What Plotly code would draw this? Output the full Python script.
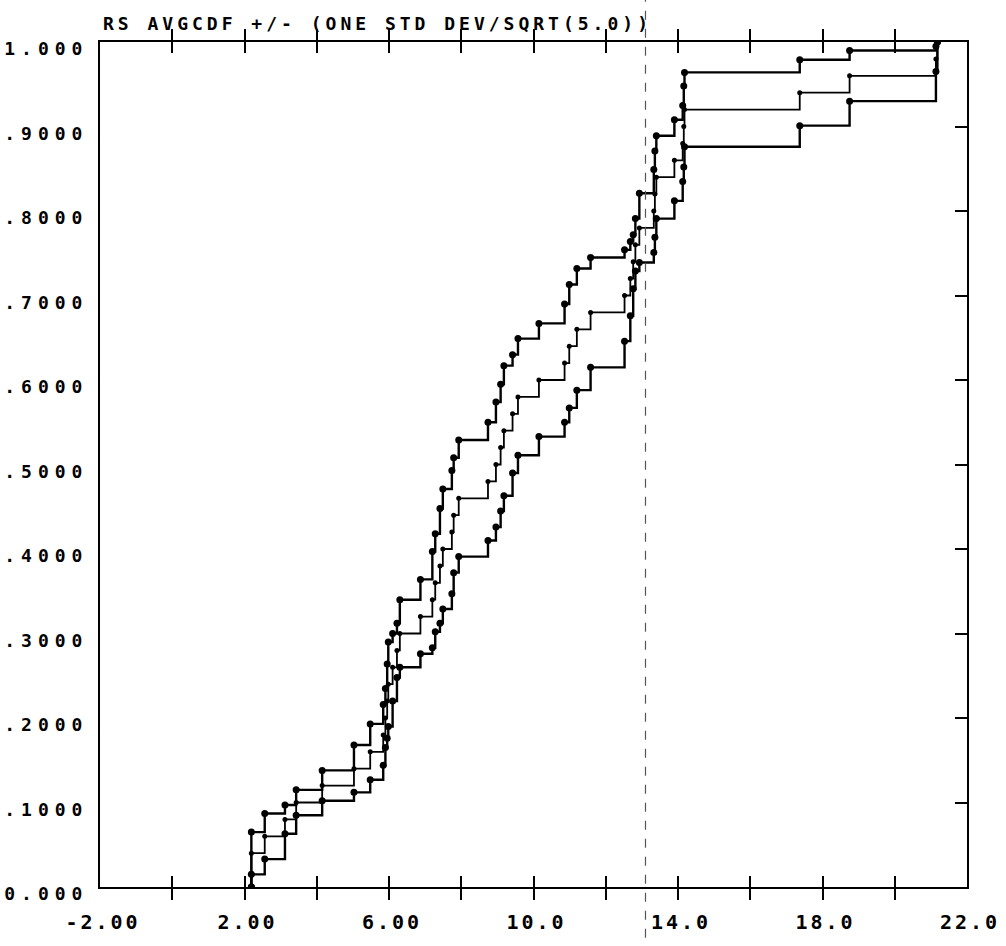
import plotly.graph_objects as go

# ---- data ----
step_x = [2.19, 2.56, 3.12, 3.43, 4.15, 5.03, 5.48, 5.84, 5.90, 5.95, 5.98, 6.10, 6.22, 6.30,
          6.87, 7.20, 7.28, 7.41, 7.49, 7.74, 7.79, 7.93, 8.74, 8.96, 9.09, 9.18, 9.42, 9.57,
          10.15, 10.86, 10.99, 11.20, 11.58, 12.52, 12.68, 12.76, 12.82, 12.93, 13.33, 13.36,
          13.40, 13.90, 14.13, 14.16, 14.18, 17.37, 18.75, 21.14, 21.18]

avg_cdf = [0.04, 0.06, 0.08, 0.10, 0.12, 0.14, 0.16, 0.18, 0.20, 0.22, 0.24, 0.26, 0.28, 0.30,
           0.32, 0.34, 0.36, 0.38, 0.40, 0.42, 0.44, 0.46, 0.48, 0.50, 0.52, 0.54, 0.56, 0.58,
           0.60, 0.62, 0.64, 0.66, 0.68, 0.70, 0.72, 0.74, 0.76, 0.78, 0.80, 0.82, 0.84, 0.86,
           0.88, 0.90, 0.92, 0.94, 0.96, 0.98, 1.00]

upper_cdf = [0.065, 0.087, 0.097, 0.115, 0.138, 0.168, 0.193, 0.216, 0.235, 0.264, 0.290, 0.300,
             0.312, 0.340, 0.364, 0.397, 0.418, 0.448, 0.471, 0.493, 0.508, 0.529, 0.550, 0.574,
             0.595, 0.617, 0.630, 0.649, 0.667, 0.690, 0.713, 0.732, 0.745, 0.754, 0.764, 0.772,
             0.791, 0.821, 0.849, 0.871, 0.889, 0.908, 0.925, 0.948, 0.964, 0.979, 0.990, 0.995,
             1.000]

lower_cdf = [0.015, 0.033, 0.063, 0.085, 0.102, 0.112, 0.127, 0.144, 0.165, 0.176, 0.190, 0.220,
             0.248, 0.260, 0.276, 0.283, 0.302, 0.312, 0.329, 0.347, 0.372, 0.391, 0.410, 0.426,
             0.445, 0.463, 0.490, 0.511, 0.533, 0.550, 0.567, 0.588, 0.615, 0.646, 0.676, 0.708,
             0.729, 0.739, 0.751, 0.769, 0.791, 0.812, 0.835, 0.852, 0.876, 0.901, 0.930, 0.965,
             1.000]

x_tick_vals = [-2, 0, 2, 4, 6, 8, 10, 12, 14, 16, 18, 20, 22]
x_tick_text = ["-2.00", "", "2.00", "", "6.00", "", "10.0", "", "14.0", "", "18.0", "", "22.0"]
y_tick_vals = [0.0, 0.1, 0.2, 0.3, 0.4, 0.5, 0.6, 0.7, 0.8, 0.9, 1.0]
y_tick_text = ["0.000", ".1000", ".2000", ".3000", ".4000", ".5000", ".6000", ".7000",
               ".8000", ".9000", "1.000"]

title_text = "RS AVGCDF +/- (ONE STD DEV/SQRT(5.0))"
scan_fold_x = 13.10   # vertical dashed scanner artefact

FONT = "DejaVu Sans Mono"

fig = go.Figure()

series = [
    ("AVGCDF + SE", upper_cdf, 2.4, 7),
    ("AVGCDF", avg_cdf, 1.8, 5),
    ("AVGCDF - SE", lower_cdf, 2.4, 7),
]
for name, vals, lw, ms in series:
    xs = [step_x[0]] + list(step_x)
    ys = [0.0] + list(vals)
    fig.add_trace(go.Scatter(
        x=xs, y=ys, name=name, mode="lines+markers",
        line=dict(color="black", width=lw, shape="hv"),
        marker=dict(color="black", size=ms),
        showlegend=False, hoverinfo="skip"))

# invisible trace to carry the right-hand tick axis
fig.add_trace(go.Scatter(x=[step_x[0]], y=[avg_cdf[0]], yaxis="y2", mode="markers",
                         marker=dict(opacity=0), showlegend=False, hoverinfo="skip"))

fig.add_shape(type="line", xref="x", yref="paper", x0=scan_fold_x, x1=scan_fold_x,
              y0=-0.06, y1=1.06, line=dict(color="#555555", width=1.2, dash="dash"))

fig.update_layout(
    width=1006, height=946,
    margin=dict(l=100, r=38, t=42, b=47, pad=0),
    paper_bgcolor="white", plot_bgcolor="white",
    font=dict(family=FONT, size=19, color="black", weight="bold"),
    title=dict(text=title_text, xref="container", yref="container",
               x=103 / 1006, xanchor="left", y=1 - 24 / 946, yanchor="middle",
               font=dict(family=FONT, size=18, color="black", weight="bold")),
    xaxis=dict(range=[-2, 22], tickmode="array", tickvals=x_tick_vals, ticktext=x_tick_text,
               ticks="inside", ticklen=11, tickwidth=2, tickcolor="black",
               showline=True, linewidth=2, linecolor="black", mirror="allticks",
               showgrid=False, zeroline=False,
               tickfont=dict(family=FONT, size=20, color="black", weight="bold"),
               ticklabelstandoff=16, ticklabelshift=3),
    yaxis=dict(range=[0, 1], tickmode="array", tickvals=y_tick_vals, ticktext=y_tick_text,
               ticks="", showline=True, linewidth=2, linecolor="black", mirror=True,
               showgrid=False, zeroline=False,
               tickfont=dict(family=FONT, size=18, color="black", weight="bold"),
               ticklabelstandoff=6, ticklabelshift=7),
    yaxis2=dict(range=[0, 1], overlaying="y", side="right", tickmode="array",
                tickvals=y_tick_vals, ticks="inside", ticklen=12, tickwidth=2,
                tickcolor="black", showticklabels=False, showline=False,
                showgrid=False, zeroline=False),
)

post = """
var gd = document.getElementById('{plot_id}');
function sp(sel, v){ gd.querySelectorAll(sel).forEach(function(t){ t.style.letterSpacing = v; }); }
sp('.gtitle', '4px');
sp('.xtick text', '3px');
sp('.ytick text', '6px');
"""

fig.write_html("out.html", post_script=post)
